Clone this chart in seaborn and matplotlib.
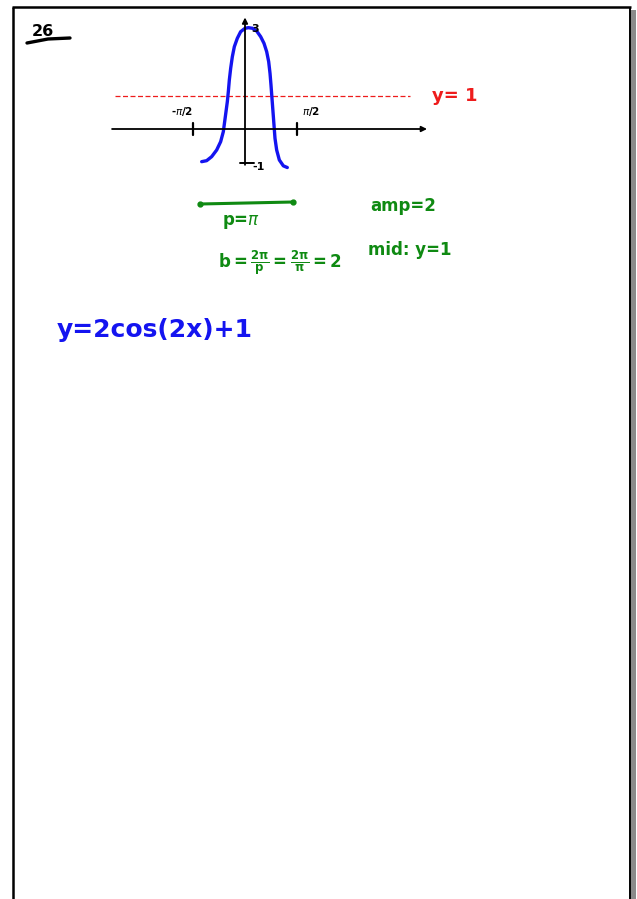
import matplotlib
matplotlib.use("Agg")
import matplotlib.pyplot as plt
import seaborn as sns
import pandas as pd
import numpy as np

# Sketched curve of y = 2cos(2x) + 1 (hand-traced points, x in radians)
curve_x = [-1.297, -1.148, -0.998, -0.848, -0.729, -0.649, -0.609, -0.569, -0.529,
           -0.499, -0.469, -0.429, -0.379, -0.319, -0.230, -0.130, 0.000, 0.100,
           0.230, 0.349, 0.469, 0.569, 0.649, 0.709, 0.749, 0.778, 0.808, 0.838,
           0.868, 0.898, 0.948, 1.028, 1.148, 1.267]
curve_y = [-0.975, -0.945, -0.826, -0.627, -0.378, -0.080, 0.219, 0.517, 0.816,
           1.114, 1.463, 1.811, 2.159, 2.458, 2.707, 2.905, 3.005, 3.025,
           3.005, 2.925, 2.756, 2.557, 2.308, 2.010, 1.662, 1.313, 0.915, 0.517,
           0.119, -0.279, -0.627, -0.925, -1.100, -1.150]

midline_y = 1
amplitude = 2
y_max = 3
y_min = -1
tick_x = [-np.pi / 2, np.pi / 2]
tick_labels = [r"-$\pi$/2", r"$\pi$/2"]

sns.set_theme(style="white")
plt.rcParams["font.family"] = ["DejaVu Sans"]
plt.rcParams["text.color"] = "black"

W, H = 637, 899
fig = plt.figure(figsize=(W / 100, H / 100), dpi=100)

# Page layer in pixel coordinates
page = fig.add_axes([0, 0, 1, 1])
page.set_xlim(0, W)
page.set_ylim(H, 0)
page.axis("off")
page.plot([13, 13], [7, H], color="black", lw=1.8, solid_capstyle="butt")
page.plot([12, 631], [7, 7], color="black", lw=1.8, solid_capstyle="butt")
page.plot([630, 630], [7, H], color="black", lw=1.4, solid_capstyle="butt")
page.fill_between([631, 636], [10, 10], [H, H], color="#8a8a8a", lw=0)

# Problem number
page.text(43, 31, "26", fontsize=11.5, fontweight="bold", color="black",
          ha="center", va="center")
page.plot([27, 48, 70], [43, 39, 38], color="black", lw=2.4, solid_capstyle="round")

# Sketch of the graph
gx0, gx1, gy0, gy1 = 100, 440, 10, 180
ax = fig.add_axes([gx0 / W, 1 - gy1 / H, (gx1 - gx0) / W, (gy1 - gy0) / H])
ppu_x, ppu_y = 33.4, 33.5
ox, oy = 245, 129
ax.set_xlim((gx0 - ox) / ppu_x, (gx1 - ox) / ppu_x)
ax.set_ylim((oy - gy1) / ppu_y, (oy - gy0) / ppu_y)
ax.axis("off")

# coordinate axes with arrow heads
ax.annotate("", xy=(5.45, 0), xytext=(-3.98, 0),
            arrowprops=dict(arrowstyle="-|>", color="black", lw=1.3,
                            mutation_scale=8, shrinkA=0, shrinkB=0))
ax.annotate("", xy=(0, 3.33), xytext=(0, -1.07),
            arrowprops=dict(arrowstyle="-|>", color="black", lw=1.3,
                            mutation_scale=8, shrinkA=0, shrinkB=0))
for tx in tick_x:
    ax.plot([tx, tx], [-0.18, 0.18], color="black", lw=1.6)
ax.plot([-0.15, 0.27], [y_min, y_min], color="black", lw=1.4)

# midline
ax.plot([-3.89, 4.94], [midline_y, midline_y], color="#ee1c1c", lw=0.9,
        dashes=(4, 2))

df = pd.DataFrame({"x": curve_x, "y": curve_y})
sns.lineplot(data=df, x="x", y="y", sort=False, color="#1414f0", lw=2.4, ax=ax,
             estimator=None)
ax.lines[-1].set_solid_joinstyle("round")
ax.lines[-1].set_solid_capstyle("round")

ax.text(0.3, y_max, str(y_max), fontsize=8, fontweight="bold", ha="center", va="center")
ax.text(0.42, -1.12, str(y_min), fontsize=8, fontweight="bold", ha="center", va="center")
ax.text(tick_x[0] - 0.3, 0.52, tick_labels[0], fontsize=7.5, fontweight="bold",
        ha="center", va="center")
ax.text(tick_x[1] + 0.4, 0.52, tick_labels[1], fontsize=7.5, fontweight="bold",
        ha="center", va="center")

# Notes
red = "#ee1c1c"
green = "#0f8a12"
blue = "#1414f0"
page.text(455, 96, "y= 1", fontsize=13, fontweight="bold", color=red,
          ha="center", va="center")

page.plot([200, 293], [204, 202], color=green, lw=2.2, marker="o", ms=3.5,
          markevery=[0, 1])
page.text(241, 222, r"p=$\pi$", fontsize=12, fontweight="bold", color=green,
          ha="center", va="center")
page.text(403, 206, f"amp={amplitude}", fontsize=12, fontweight="bold", color=green,
          ha="center", va="center")
page.text(410, 250, f"mid: y={midline_y}", fontsize=12, fontweight="bold", color=green,
          ha="center", va="center")
page.text(280, 263, r"$\mathbf{b=\frac{2\pi}{p}=\frac{2\pi}{\pi}=2}$", fontsize=12,
          color=green, ha="center", va="center")

page.text(155, 330, "y=2cos(2x)+1", fontsize=18, fontweight="bold", color=blue,
          ha="center", va="center")

fig.savefig("out.png", dpi=100, facecolor="white")
